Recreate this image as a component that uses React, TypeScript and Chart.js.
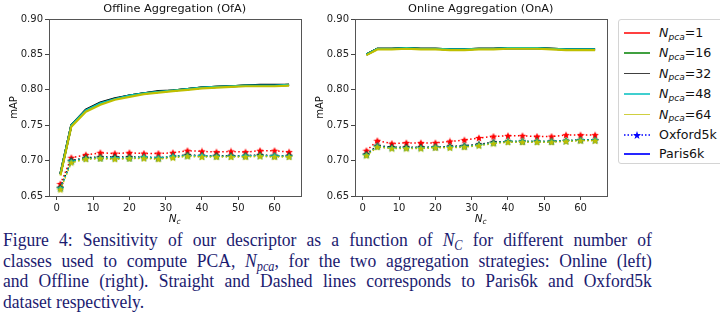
import React, { useEffect, useRef } from 'react';
import { Chart, registerables } from 'chart.js';
Chart.register(...registerables);

const nc = [1, 4, 8, 12, 16, 20, 24, 28, 32, 36, 40, 44, 48, 52, 56, 60, 64];
const npcaLabels = ['1', '16', '32', '48', '64'];
const seriesColors = ['#ff0000', '#008000', '#000000', '#00bfbf', '#bfbf00'];
const xTicks = [0, 10, 20, 30, 40, 50, 60];
const yTicks = [0.65, 0.7, 0.75, 0.8, 0.85, 0.9];

// Offline aggregation (left) – Paris6k (solid)
const ofaParis1 = [0.681, 0.750, 0.771, 0.781, 0.787, 0.792, 0.795, 0.797, 0.799, 0.801, 0.803, 0.804, 0.805, 0.806, 0.806, 0.806, 0.807];
const ofaParis16 = [0.681, 0.750, 0.771, 0.781, 0.787, 0.792, 0.795, 0.797, 0.799, 0.801, 0.803, 0.804, 0.805, 0.806, 0.806, 0.806, 0.807];
const ofaParis32 = [0.681, 0.750, 0.772, 0.782, 0.788, 0.792, 0.795, 0.798, 0.799, 0.801, 0.803, 0.804, 0.805, 0.806, 0.807, 0.807, 0.807];
const ofaParis48 = [0.681, 0.750, 0.771, 0.781, 0.787, 0.792, 0.795, 0.797, 0.799, 0.801, 0.803, 0.804, 0.805, 0.806, 0.806, 0.806, 0.807];
const ofaParis64 = [0.679, 0.748, 0.769, 0.779, 0.786, 0.790, 0.794, 0.796, 0.798, 0.800, 0.802, 0.803, 0.804, 0.805, 0.805, 0.805, 0.806];
// Offline aggregation (left) – Oxford5k (dotted)
const ofaOxford1 = [0.667, 0.704, 0.708, 0.711, 0.710, 0.711, 0.710, 0.710, 0.711, 0.714, 0.713, 0.712, 0.713, 0.712, 0.714, 0.714, 0.712];
const ofaOxford16 = [0.661, 0.699, 0.703, 0.703, 0.703, 0.703, 0.704, 0.703, 0.705, 0.707, 0.706, 0.706, 0.706, 0.706, 0.707, 0.706, 0.706];
const ofaOxford32 = [0.662, 0.700, 0.704, 0.705, 0.705, 0.705, 0.705, 0.704, 0.706, 0.708, 0.707, 0.707, 0.707, 0.707, 0.708, 0.707, 0.707];
const ofaOxford48 = [0.661, 0.699, 0.703, 0.704, 0.704, 0.704, 0.705, 0.704, 0.706, 0.707, 0.707, 0.706, 0.706, 0.707, 0.707, 0.707, 0.706];
const ofaOxford64 = [0.659, 0.697, 0.702, 0.703, 0.702, 0.703, 0.703, 0.702, 0.704, 0.706, 0.705, 0.705, 0.705, 0.705, 0.706, 0.705, 0.705];

// Online aggregation (right) – Paris6k (solid)
const onaParis1 = [0.850, 0.858, 0.858, 0.859, 0.858, 0.858, 0.857, 0.857, 0.858, 0.858, 0.859, 0.859, 0.859, 0.858, 0.857, 0.857, 0.857];
const onaParis16 = [0.850, 0.858, 0.858, 0.859, 0.858, 0.858, 0.857, 0.857, 0.858, 0.858, 0.859, 0.859, 0.859, 0.858, 0.857, 0.857, 0.857];
const onaParis32 = [0.850, 0.858, 0.858, 0.859, 0.858, 0.858, 0.857, 0.857, 0.858, 0.858, 0.859, 0.859, 0.859, 0.858, 0.857, 0.857, 0.857];
const onaParis48 = [0.850, 0.858, 0.858, 0.859, 0.858, 0.858, 0.857, 0.857, 0.858, 0.858, 0.859, 0.859, 0.859, 0.858, 0.857, 0.857, 0.857];
const onaParis64 = [0.849, 0.857, 0.857, 0.858, 0.857, 0.857, 0.856, 0.856, 0.857, 0.857, 0.858, 0.858, 0.858, 0.857, 0.856, 0.856, 0.856];
// Online aggregation (right) – Oxford5k (dotted)
const onaOxford1 = [0.714, 0.728, 0.724, 0.725, 0.725, 0.725, 0.727, 0.729, 0.732, 0.734, 0.735, 0.735, 0.734, 0.734, 0.736, 0.736, 0.736];
const onaOxford16 = [0.708, 0.720, 0.718, 0.718, 0.718, 0.719, 0.719, 0.720, 0.722, 0.725, 0.727, 0.727, 0.727, 0.727, 0.728, 0.729, 0.729];
const onaOxford32 = [0.709, 0.721, 0.719, 0.719, 0.719, 0.719, 0.720, 0.721, 0.723, 0.726, 0.727, 0.727, 0.727, 0.727, 0.728, 0.729, 0.729];
const onaOxford48 = [0.708, 0.720, 0.718, 0.718, 0.718, 0.719, 0.719, 0.720, 0.722, 0.725, 0.727, 0.727, 0.727, 0.727, 0.728, 0.729, 0.729];
const onaOxford64 = [0.707, 0.719, 0.717, 0.717, 0.717, 0.718, 0.718, 0.719, 0.721, 0.724, 0.726, 0.726, 0.726, 0.726, 0.727, 0.728, 0.728];

const FONT = '"DejaVu Sans", sans-serif';

function makeStar(color: string, size = 8) {
  const c = document.createElement('canvas');
  c.width = size;
  c.height = size;
  const ctx = c.getContext('2d')!;
  const cx = size / 2, cy = size / 2 + 0.3, R = size / 2, r = R * 0.45;
  ctx.beginPath();
  for (let i = 0; i < 10; i++) {
    const a = -Math.PI / 2 + (i * Math.PI) / 5;
    const rad = i % 2 === 0 ? R : r;
    const px = cx + rad * Math.cos(a);
    const py = cy + rad * Math.sin(a);
    if (i === 0) ctx.moveTo(px, py); else ctx.lineTo(px, py);
  }
  ctx.closePath();
  ctx.fillStyle = color;
  ctx.fill();
  return c;
}

const decorPlugin = {
  id: 'decor',
  afterDraw(chart: any) {
    const { ctx, chartArea } = chart;
    ctx.save();
    ctx.strokeStyle = '#555';
    ctx.lineWidth = 1;
    ctx.strokeRect(
      Math.round(chartArea.left) + 0.5,
      Math.round(chartArea.top) + 0.5,
      Math.round(chartArea.right) - Math.round(chartArea.left),
      Math.round(chartArea.bottom) - Math.round(chartArea.top)
    );
    // x axis label N_c
    const cx = (chartArea.left + chartArea.right) / 2;
    ctx.fillStyle = '#111';
    ctx.textBaseline = 'alphabetic';
    ctx.font = `italic 10.5px ${FONT}`;
    const wN = ctx.measureText('N').width;
    ctx.font = `italic 7.5px ${FONT}`;
    const wc = ctx.measureText('c').width;
    const x0 = cx - (wN + wc) / 2;
    ctx.font = `italic 10.5px ${FONT}`;
    ctx.fillText('N', x0, 221.5);
    ctx.font = `italic 7.5px ${FONT}`;
    ctx.fillText('c', x0 + wN, 224);
    ctx.restore();
  },
};

function buildConfig(title: string, paris: number[][], oxford: number[][], padRight: number) {
  const datasets: any[] = [];
  paris.forEach((vals, i) => {
    datasets.push({
      label: `Paris6k Npca=${npcaLabels[i]}`,
      data: nc.map((x, j) => ({ x, y: vals[j] })),
      borderColor: seriesColors[i],
      backgroundColor: seriesColors[i],
      borderWidth: 2.2,
      pointRadius: 0,
      fill: false,
      tension: 0,
    });
  });
  oxford.forEach((vals, i) => {
    datasets.push({
      label: `Oxford5k Npca=${npcaLabels[i]}`,
      data: nc.map((x, j) => ({ x, y: vals[j] })),
      borderColor: seriesColors[i],
      backgroundColor: seriesColors[i],
      borderWidth: 1.5,
      borderDash: [1.5, 2.5],
      pointStyle: makeStar(seriesColors[i], 8),
      pointRadius: 4,
      fill: false,
      tension: 0,
    });
  });
  datasets.reverse();
  const tickFont = { family: FONT, size: 10 };
  return {
    type: 'line',
    data: { datasets },
    plugins: [decorPlugin],
    options: {
      responsive: false,
      animation: false,
      events: [],
      layout: { padding: { left: 0, right: padRight, top: 0, bottom: 0 } },
      plugins: {
        legend: { display: false },
        tooltip: { enabled: false },
        title: {
          display: true,
          text: title,
          fullSize: false,
          color: '#111',
          font: { family: FONT, size: 11.3, weight: 'normal', lineHeight: 1.2 },
          padding: { top: 2.5, bottom: 2.94 },
        },
      },
      scales: {
        x: {
          type: 'linear',
          min: -2.15,
          max: 67.15,
          afterBuildTicks: (s: any) => { s.ticks = xTicks.map((v) => ({ value: v })); },
          afterFit: (s: any) => { s.height = 32; },
          grid: { drawOnChartArea: false, drawTicks: true, tickLength: 4, color: '#444' },
          border: { display: false },
          ticks: { color: '#222', font: tickFont, padding: 2, maxRotation: 0, autoSkip: false },
        },
        y: {
          type: 'linear',
          min: 0.65,
          max: 0.9,
          afterBuildTicks: (s: any) => { s.ticks = yTicks.map((v) => ({ value: v })); },
          afterFit: (s: any) => { s.width = 49; },
          grid: { drawOnChartArea: false, drawTicks: true, tickLength: 4, color: '#444' },
          border: { display: false },
          title: {
            display: true,
            text: 'mAP',
            color: '#111',
            font: { family: FONT, size: 10 },
            padding: { top: 8.6, bottom: 0 },
          },
          ticks: {
            color: '#222',
            font: tickFont,
            padding: 2,
            autoSkip: false,
            callback: (v: any) => Number(v).toFixed(2),
          },
        },
      },
    },
  };
}

function ChartCanvas({ config, left, width }: { config: () => any; left: number; width: number }) {
  const ref = useRef<HTMLCanvasElement>(null);
  useEffect(() => {
    const chart = new Chart(ref.current!, config());
    return () => chart.destroy();
  }, []);
  return (
    <canvas
      ref={ref}
      width={width}
      height={228}
      style={{ position: 'absolute', left, top: 0, width, height: 228 }}
    />
  );
}

const Sub = ({ children }: { children: any }) => (
  <span style={{ fontSize: '0.7em', position: 'relative', top: '0.32em', lineHeight: 0 }}>{children}</span>
);

function LegendRow({ top, children, line }: { top: number; children: any; line: any }) {
  return (
    <div style={{ position: 'absolute', left: 0, top: top - 10, height: 20, width: 110 }}>
      <div style={{ position: 'absolute', left: 5, top: 9, width: 26, height: 2 }}>{line}</div>
      <div style={{ position: 'absolute', left: 40, top: 0, height: 20, lineHeight: '20px', whiteSpace: 'nowrap' }}>
        {children}
      </div>
    </div>
  );
}

function Legend() {
  const rows: any[] = [];
  const centers = [13, 33.2, 53.6, 74, 94.6, 115.2, 134.4];
  npcaLabels.forEach((lab, i) => {
    rows.push(
      <LegendRow
        key={lab}
        top={centers[i]}
        line={<div style={{ width: 26, height: 1.6, background: seriesColors[i], opacity: 0.75 }} />}
      >
        <i>N</i>
        <span style={{ fontSize: '0.72em', position: 'relative', top: '0.3em' }}><i>pca</i></span>=
        {lab}
      </LegendRow>
    );
  });
  rows.push(
    <LegendRow
      key="ox"
      top={centers[5]}
      line={
        <svg width={26} height={8} style={{ position: 'absolute', top: -3, left: 0 }}>
          <line x1={0} y1={4} x2={26} y2={4} stroke="#0000ff" strokeWidth={1.6} strokeDasharray="1.5 2" />
          <polygon
            points="13,0 14,3 17,3 14.6,5 15.5,8 13,6.2 10.5,8 11.4,5 9,3 12,3"
            fill="#0000ff"
          />
        </svg>
      }
    >
      Oxford5k
    </LegendRow>
  );
  rows.push(
    <LegendRow
      key="pa"
      top={centers[6]}
      line={<div style={{ width: 26, height: 1.6, background: '#0000ff', opacity: 0.85 }} />}
    >
      Paris6k
    </LegendRow>
  );
  return (
    <div
      style={{
        position: 'absolute',
        left: 618,
        top: 19,
        width: 112,
        height: 145,
        border: '1px solid #d4d4d4',
        borderRadius: 3,
        boxSizing: 'border-box',
        fontFamily: FONT,
        fontSize: 12.6,
        color: '#111',
        background: '#fff',
      }}
    >
      {rows}
    </div>
  );
}

const justify: any = { textAlign: 'justify', textAlignLast: 'justify', whiteSpace: 'normal' };

export default function App() {
  return (
    <div
      style={{
        position: 'fixed',
        left: 0,
        top: 0,
        width: 720,
        height: 323,
        overflow: 'hidden',
        background: '#fff',
      }}
    >
      <ChartCanvas
        left={0}
        width={306}
        config={() =>
          buildConfig(
            'Offline Aggregation (OfA)',
            [ofaParis1, ofaParis16, ofaParis32, ofaParis48, ofaParis64],
            [ofaOxford1, ofaOxford16, ofaOxford32, ofaOxford48, ofaOxford64],
            4.3
          )
        }
      />
      <ChartCanvas
        left={306}
        width={306}
        config={() =>
          buildConfig(
            'Online Aggregation (OnA)',
            [onaParis1, onaParis16, onaParis32, onaParis48, onaParis64],
            [onaOxford1, onaOxford16, onaOxford32, onaOxford48, onaOxford64],
            3.3
          )
        }
      />
      <Legend />
      <div
        style={{
          position: 'absolute',
          left: 3,
          top: 230,
          width: 721,
          transform: 'scaleX(0.9)',
          transformOrigin: '0 0',
          fontFamily: '"Liberation Serif", "Times New Roman", serif',
          fontSize: 19.5,
          lineHeight: '20.5px',
          color: '#1b1b70',
        }}
      >
        <div style={justify}>
          Figure 4: Sensitivity of our descriptor as a function of <i>N</i>
          <Sub><i>C</i></Sub> for different number of
        </div>
        <div style={justify}>
          classes used to compute PCA, <i>N</i>
          <Sub><i>pca</i></Sub>, for the two aggregation strategies: Online (left)
        </div>
        <div style={justify}>
          and Offline (right). Straight and Dashed lines corresponds to Paris6k and Oxford5k
        </div>
        <div>dataset respectively.</div>
      </div>
    </div>
  );
}
